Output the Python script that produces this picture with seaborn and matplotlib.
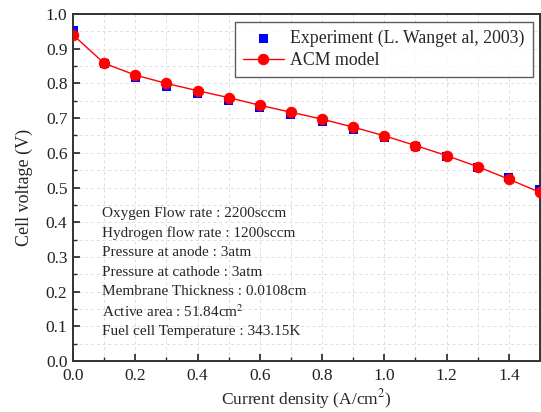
import numpy as np
import pandas as pd
import matplotlib
matplotlib.use("Agg")
import matplotlib.pyplot as plt
import seaborn as sns
from matplotlib.ticker import MultipleLocator

current = [0.0, 0.1, 0.2, 0.3, 0.4, 0.5, 0.6, 0.7, 0.8, 0.9, 1.0, 1.1, 1.2, 1.3, 1.4, 1.5]
v_exp = [0.953, 0.857, 0.818, 0.792, 0.771, 0.752, 0.730, 0.710, 0.689, 0.666, 0.643, 0.619, 0.590, 0.559, 0.529, 0.495]
v_acm = [0.940, 0.858, 0.824, 0.800, 0.779, 0.759, 0.737, 0.717, 0.697, 0.674, 0.649, 0.621, 0.592, 0.560, 0.524, 0.486]

info_lines = [
    "Oxygen Flow rate : 2200sccm",
    "Hydrogen flow rate : 1200sccm",
    "Pressure at anode : 3atm",
    "Pressure at cathode : 3atm",
    "Membrane Thickness : 0.0108cm",
    "Active area : 51.84cm$^2$",
    "Fuel cell Temperature : 343.15K",
]

df = pd.DataFrame({"j": current, "exp": v_exp, "acm": v_acm})

sns.set_style("ticks")
plt.rcParams["font.family"] = ["Liberation Serif", "DejaVu Serif"]
plt.rcParams["mathtext.fontset"] = "stix"

fig = plt.figure(figsize=(5.41, 4.12), dpi=100)
ax = fig.add_axes([73 / 541, 1 - 361 / 412, 467 / 541, 347 / 412])

sns.scatterplot(data=df, x="j", y="exp", ax=ax, marker="s", s=42, color="#0000ff",
                edgecolor="none", label="Experiment (L. Wanget al, 2003)", zorder=3)
sns.lineplot(data=df, x="j", y="acm", ax=ax, color="#ff0000", lw=1, marker="o",
             markersize=7.5, markeredgecolor="#ff0000", label="ACM model", zorder=4)

ax.set_xlim(0, 1.5)
ax.set_ylim(0, 1.0)
ax.xaxis.set_major_locator(MultipleLocator(0.2))
ax.xaxis.set_minor_locator(MultipleLocator(0.1))
ax.yaxis.set_major_locator(MultipleLocator(0.1))
ax.yaxis.set_minor_locator(MultipleLocator(0.05))
ax.grid(True, which="both", ls=(0, (3, 3)), color="#dddddd", lw=0.7)
ax.set_axisbelow(True)
ax.tick_params(which="major", direction="in", length=5, width=1.2, labelsize=12.5,
               colors="#222222", pad=4)
ax.tick_params(axis="x", which="major", pad=5)
ax.tick_params(which="minor", direction="in", length=3, width=1)
for sp in ax.spines.values():
    sp.set_linewidth(1.4)
    sp.set_color("#333333")

ax.set_xlabel("Current density (A/cm$^2$)", fontsize=12.5, labelpad=2.5)
ax.set_ylabel("Cell voltage (V)", fontsize=13, labelpad=9)
ax.set_xticks(np.arange(0, 1.41, 0.2))
ax.set_xticklabels([f"{t:.1f}" for t in np.arange(0, 1.41, 0.2)])

leg = ax.legend(loc="upper right", bbox_to_anchor=(0.984, 0.978), fontsize=12.8,
                frameon=True, fancybox=False, borderpad=0.45, handlelength=2.3,
                handletextpad=0.35, labelspacing=0.3, borderaxespad=0)
leg.get_frame().set_edgecolor("#333333")
leg.get_frame().set_linewidth(1)

for i, line in enumerate(info_lines):
    ax.text(0.062, 0.425 - i * 0.0565, line, transform=ax.transAxes, fontsize=11, va="center")

fig.savefig("out.png", dpi=100)
